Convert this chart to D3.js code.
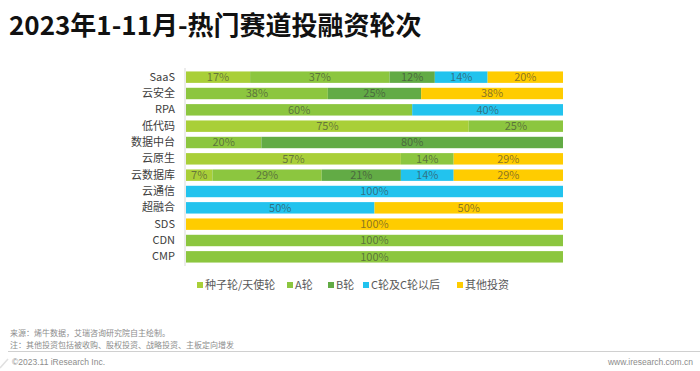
<!DOCTYPE html>
<html>
<head>
<meta charset="utf-8">
<script src="https://cdn.jsdelivr.net/npm/d3@7/dist/d3.min.js"></script>
<style>
  body { margin: 0; background: #fff; }
  svg { display: block; font-family: "Noto Sans CJK SC", "Open Sans", sans-serif; }
</style>
</head>
<body>
<svg id="chart" width="700" height="371"></svg>
<script>
// categories, top to bottom
var categories = ["SaaS", "云安全", "RPA", "低代码", "数据中台", "云原生", "云数据库", "云通信", "超融合", "SDS", "CDN", "CMP"];
var seriesNames = ["种子轮/天使轮", "A轮", "B轮", "C轮及C轮以后", "其他投资"];
var seriesColors = ["#a9cf38", "#8cc63f", "#62ab45", "#22c3ee", "#ffcc00"];

// percentages per series, aligned with categories
var seed  = [17, 0, 0, 75, 0, 57, 7, 0, 0, 0, 0, 0];
var roundA = [37, 38, 60, 25, 20, 14, 29, 0, 0, 0, 100, 100];
var roundB = [12, 25, 0, 0, 80, 0, 21, 0, 0, 0, 0, 0];
var roundC = [14, 0, 40, 0, 0, 0, 14, 100, 50, 0, 0, 0];
var other  = [20, 38, 0, 0, 0, 29, 29, 0, 50, 100, 0, 0];

var seriesValues = [seed, roundA, roundB, roundC, other];

var rows = categories.map(function (c, i) {
  var r = { cat: c };
  seriesNames.forEach(function (s, j) { r[s] = seriesValues[j][i]; });
  return r;
});

var svg = d3.select("#chart");

// title
svg.append("text")
  .attr("x", 9).attr("y", 35)
  .style("font-size", "26px").style("font-weight", "bold")
  .style("fill", "#111")
  .text("2023年1-11月-热门赛道投融资轮次");

var x = d3.scaleLinear().domain([0, 1]).range([186, 563]);
var y = d3.scaleBand().domain(categories).range([69, 265]).paddingInner(0.3).paddingOuter(0.15);

var stack = d3.stack().keys(seriesNames).offset(d3.stackOffsetExpand);
var layers = stack(rows);

var g = svg.append("g");

var layer = g.selectAll("g.layer")
  .data(layers)
  .enter().append("g")
  .attr("class", "layer")
  .attr("fill", function (d, i) { return seriesColors[i]; });

layer.selectAll("rect")
  .data(function (d) { return d.filter(function (p) { return p[1] - p[0] > 0; }); })
  .enter().append("rect")
  .attr("x", function (d) { return x(d[0]); })
  .attr("width", function (d) { return x(d[1]) - x(d[0]); })
  .attr("y", function (d) { return y(d.data.cat); })
  .attr("height", y.bandwidth());

// value labels
layers.forEach(function (l) {
  l.forEach(function (p) {
    var v = p.data[l.key];
    if (!v) return;
    g.append("text")
      .attr("x", (x(p[0]) + x(p[1])) / 2)
      .attr("y", y(p.data.cat) + y.bandwidth() / 2)
      .attr("dy", "0.36em")
      .attr("text-anchor", "middle")
      .style("font-size", "11px")
      .style("fill", "#3a3a3a")
      .style("fill-opacity", 0.6)
      .text(v + "%");
  });
});

// y axis
var yAxis = svg.append("g")
  .attr("transform", "translate(185,0)")
  .call(d3.axisLeft(y).tickSize(0).tickPadding(10));
yAxis.select(".domain").attr("stroke", "#d9d9d9").attr("d", "M0,68V266");
yAxis.selectAll("text")
  .style("font-size", "11px")
  .style("font-family", "'Noto Sans CJK SC', 'Open Sans', sans-serif")
  .style("fill", "#404040");

// legend
var legendX = [197, 287, 328, 363, 457];
var legend = svg.append("g").selectAll("g")
  .data(seriesNames)
  .enter().append("g")
  .attr("transform", function (d, i) { return "translate(" + legendX[i] + ",285)"; });
legend.append("rect")
  .attr("x", 0).attr("y", -3).attr("width", 6).attr("height", 6)
  .attr("fill", function (d, i) { return seriesColors[i]; });
legend.append("text")
  .attr("x", 8).attr("y", 0).attr("dy", "0.35em")
  .style("font-size", "11px").style("fill", "#595959")
  .text(function (d) { return d; });

// footer
var note = svg.append("g").style("font-size", "8px").style("fill", "#8c8c8c");
note.append("text").attr("x", 10).attr("y", 336).text("来源：烯牛数据，艾瑞咨询研究院自主绘制。");
note.append("text").attr("x", 10).attr("y", 348).text("注：其他投资包括被收购、股权投资、战略投资、主板定向增发");
svg.append("line")
  .attr("x1", 8).attr("x2", 700).attr("y1", 351.5).attr("y2", 351.5)
  .attr("stroke", "#d0d0d0").attr("stroke-width", 1);
svg.append("line")
  .attr("x1", 0).attr("y1", 368).attr("x2", 8).attr("y2", 359)
  .attr("stroke", "#e0e0e0").attr("stroke-width", 1.5);
note.append("text").attr("x", 12).attr("y", 365)
  .style("font-size", "8.5px")
  .style("font-family", "'Liberation Sans', Arial, sans-serif")
  .text("©2023.11 iResearch Inc.");
note.append("text").attr("x", 693).attr("y", 365).attr("text-anchor", "end")
  .style("font-size", "8.5px")
  .style("font-family", "'Liberation Sans', Arial, sans-serif")
  .text("www.iresearch.com.cn");
</script>
</body>
</html>
